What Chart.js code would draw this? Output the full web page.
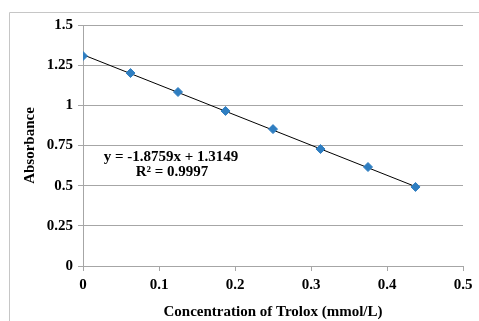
<!DOCTYPE html>
<html>
<head>
<meta charset="utf-8">
<script src="https://cdn.jsdelivr.net/npm/chart.js@4/dist/chart.umd.min.js"></script>
<style>
  html, body { margin: 0; padding: 0; background: #fff; }
  #wrap { width: 479px; height: 321px; position: relative; }
</style>
</head>
<body>
<div id="wrap"><canvas id="chart"></canvas></div>
<script>
// ─── DATA ─────────────────────────────────────────────────
const concentrations = [0, 0.0625, 0.125, 0.1875, 0.25, 0.3125, 0.375, 0.4375];
const absorbance = [1.307, 1.201, 1.083, 0.965, 0.852, 0.728, 0.616, 0.492];
const slope = -1.8759;
const intercept = 1.3149;
const equationLabel = 'y = -1.8759x + 1.3149';
const r2Label = 'R² = 0.9997';

const points = concentrations.map((x, i) => ({ x, y: absorbance[i] }));
const xEnd = concentrations[concentrations.length - 1];
const trend = [{ x: 0, y: intercept }, { x: xEnd, y: intercept + slope * xEnd }];

const font = { family: '"Liberation Serif", "Times New Roman", serif', size: 15, weight: 'bold' };
const fmt = v => String(Math.round(v * 100) / 100);

// outer chart frame + trendline label
const extras = {
    id: 'extras',
    beforeDraw(chart) {
        const c = chart.ctx;
        c.save();
        c.strokeStyle = '#c6c6c6';
        c.lineWidth = 1;
        c.beginPath();
        c.moveTo(9.5, 321);
        c.lineTo(9.5, 12.5);
        c.lineTo(479, 12.5);
        c.stroke();
        c.restore();
    },
    afterDraw(chart) {
        const c = chart.ctx;
        c.save();
        c.fillStyle = '#000';
        c.font = 'bold 15px "Liberation Serif", serif';
        c.textAlign = 'center';
        c.textBaseline = 'middle';
        c.fillText(equationLabel, 171, 157);
        c.fillText(r2Label, 172, 172);
        c.restore();
    }
};

new Chart(document.getElementById('chart'), {
    type: 'scatter',
    data: {
        datasets: [{
            data: points,
            pointStyle: 'rectRot',
            pointRadius: 4.5,
            pointBackgroundColor: '#2f7ec1',
            pointBorderColor: '#2f7ec1',
            borderWidth: 1,
            order: 1,
        }, {
            type: 'line',
            data: trend,
            borderColor: '#000',
            borderWidth: 1,
            pointRadius: 0,
            fill: false,
            order: 2,
        }]
    },
    options: {
        responsive: true, maintainAspectRatio: false, animation: false,
        layout: { padding: { left: 9, top: 25, right: 16, bottom: 0 } },
        plugins: { legend: { display: false }, tooltip: { enabled: false } },
        scales: {
            x: {
                type: 'linear', min: 0, max: 0.5,
                afterFit: s => { s.height = 55; },
                border: { color: '#a6a6a6', width: 1 },
                grid: { drawOnChartArea: false, drawTicks: true, tickLength: 5, color: '#a6a6a6' },
                ticks: { stepSize: 0.1, padding: 5, color: '#000', font, maxRotation: 0, callback: fmt },
                title: { display: true, text: 'Concentration of Trolox (mmol/L)', color: '#000', font, padding: { top: 6, bottom: 0 } },
            },
            y: {
                min: 0, max: 1.5,
                afterFit: s => { s.width = 74; },
                border: { color: '#a6a6a6', width: 1 },
                grid: { color: '#a6a6a6', tickLength: 5 },
                ticks: { stepSize: 0.25, padding: 5, color: '#000', font, callback: fmt },
                title: { display: true, text: 'Absorbance', color: '#000', font, padding: { top: 12, bottom: 0 } },
            }
        }
    },
    plugins: [extras]
});
</script>
</body>
</html>
